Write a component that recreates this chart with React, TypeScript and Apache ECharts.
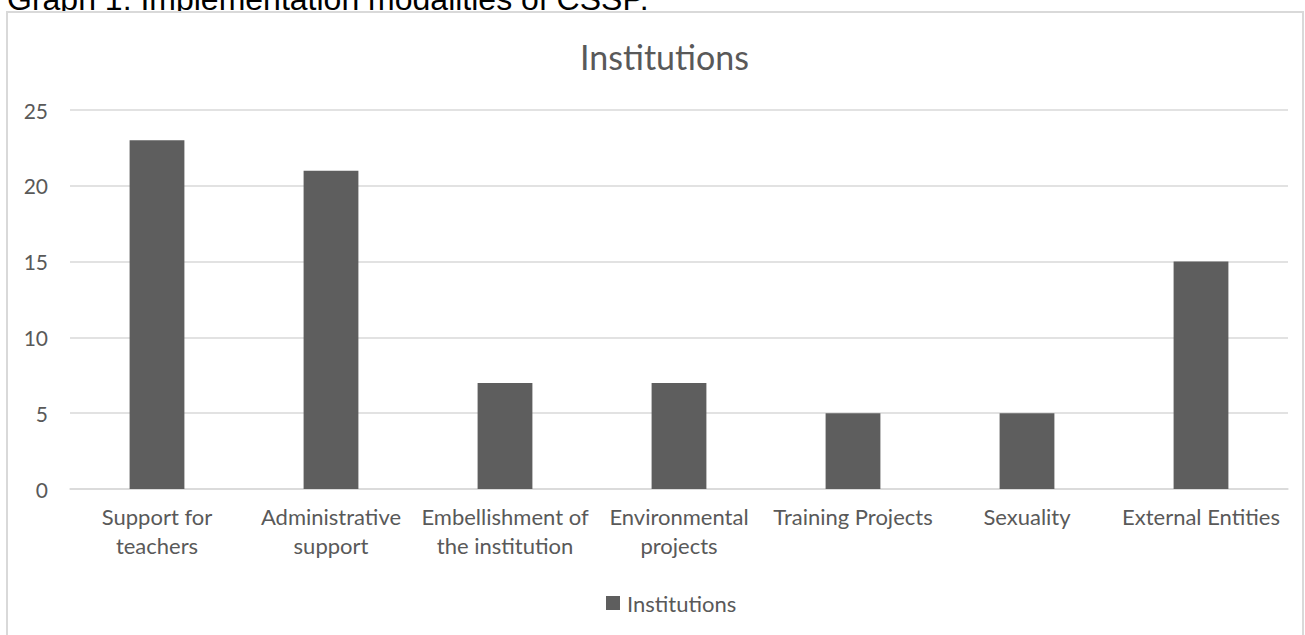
import React, { useEffect, useRef } from "react";
import * as echarts from "echarts";

const categories = [
  "Support for\nteachers",
  "Administrative\nsupport",
  "Embellishment of\nthe institution",
  "Environmental\nprojects",
  "Training Projects",
  "Sexuality",
  "External Entities",
];
const institutions = [23, 21, 7, 7, 5, 5, 15];
const seriesName = "Institutions";
const chartTitle = "Institutions";
const caption = "Graph 1: Implementation modalities of CSSP.";

const FONT = "Lato, 'Open Sans', sans-serif";
const TEXT = "#595959";

export default function App() {
  const ref = useRef<HTMLDivElement>(null);
  useEffect(() => {
    if (!ref.current) return;
    const chart = echarts.init(ref.current, undefined, { renderer: "svg" });
    chart.setOption({
      animation: false,
      backgroundColor: "transparent",
      title: {
        text: chartTitle,
        left: 575,
        top: 34,
        textStyle: { fontFamily: FONT, fontSize: 34, fontWeight: "normal", color: TEXT },
      },
      legend: {
        top: 587,
        left: 601,
        itemWidth: 14,
        itemHeight: 14,
        itemGap: 8,
        icon: "rect",
        textStyle: { fontFamily: FONT, fontSize: 22, color: TEXT, padding: [0, 0, 0, 2] },
        data: [seriesName],
      },
      grid: { left: 70, right: 17, top: 110, bottom: 146, containLabel: false },
      xAxis: {
        type: "category",
        data: categories,
        axisLine: { lineStyle: { color: "#d9d9d9", width: 1.5 } },
        axisTick: { show: false },
        axisLabel: {
          fontFamily: FONT,
          fontSize: 22,
          color: TEXT,
          margin: 13,
          lineHeight: 29,
          interval: 0,
        },
      },
      yAxis: {
        type: "value",
        min: 0,
        max: 25,
        interval: 5,
        axisLine: { show: false },
        axisTick: { show: false },
        splitLine: { lineStyle: { color: "#d9d9d9", width: 1.5 } },
        axisLabel: { fontFamily: FONT, fontSize: 21, color: TEXT, margin: 22 },
      },
      series: [
        {
          name: seriesName,
          type: "bar",
          data: institutions,
          barWidth: "31.5%",
          itemStyle: { color: "#5e5e5e" },
        },
      ],
      graphic: [
        {
          type: "text",
          x: 7,
          y: 15,
          z: -10,
          style: {
            text: caption,
            fontFamily: "'Liberation Sans', Arial, sans-serif",
            fontSize: 32,
            fill: "#000000",
            verticalAlign: "bottom",
            textVerticalAlign: "bottom",
          },
          silent: true,
        },
        {
          type: "rect",
          z: -5,
          shape: { x: 7, y: 12, width: 1296, height: 640 },
          style: { fill: "#ffffff", stroke: "#d9d9d9", lineWidth: 2 },
          silent: true,
        },
      ],
    });
    return () => chart.dispose();
  }, []);
  return (
    <div
      ref={ref}
      style={{ position: "fixed", left: 0, top: 0, width: 1305, height: 635, background: "#ffffff" }}
    />
  );
}
